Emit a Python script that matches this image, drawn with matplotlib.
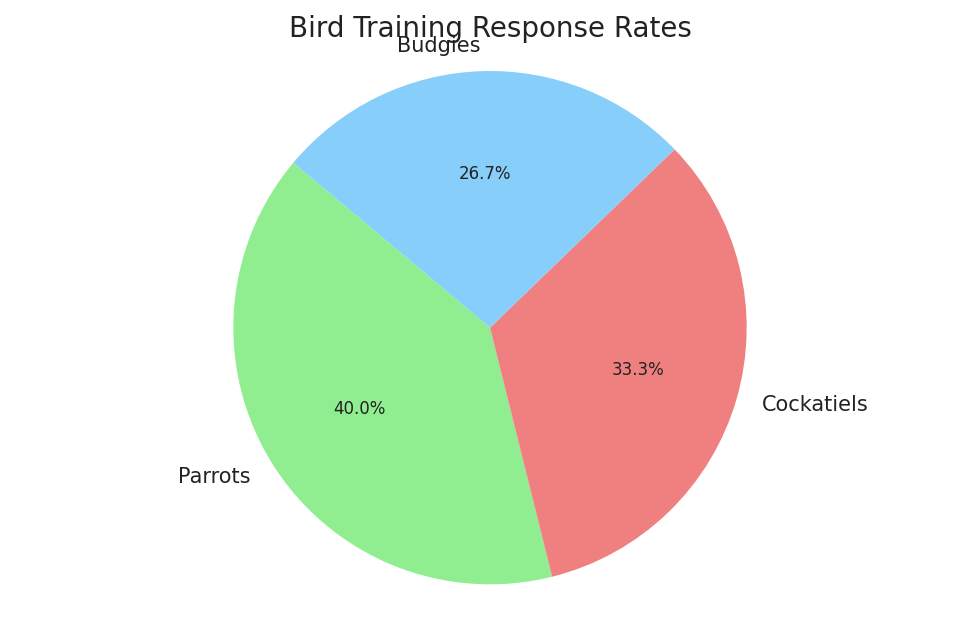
import matplotlib

matplotlib.use("Agg")
import matplotlib.pyplot as plt

labels = ["Parrots", "Cockatiels", "Budgies"]
responses = [30, 25, 20]
colors = ["lightgreen", "lightcoral", "lightskyblue"]

fig, ax = plt.subplots(figsize=(9.8, 6.25), dpi=100)
wedges, texts, autotexts = ax.pie(
    responses,
    labels=labels,
    colors=colors,
    autopct="%1.1f%%",
    startangle=140,
    textprops={"fontsize": 12, "color": "#222222"},
)
for t in texts:
    t.set_fontsize(15)
ax.axis("equal")
ax.set_title("Bird Training Response Rates", fontsize=20, color="#222222")
fig.tight_layout()
fig.savefig("out.png")
